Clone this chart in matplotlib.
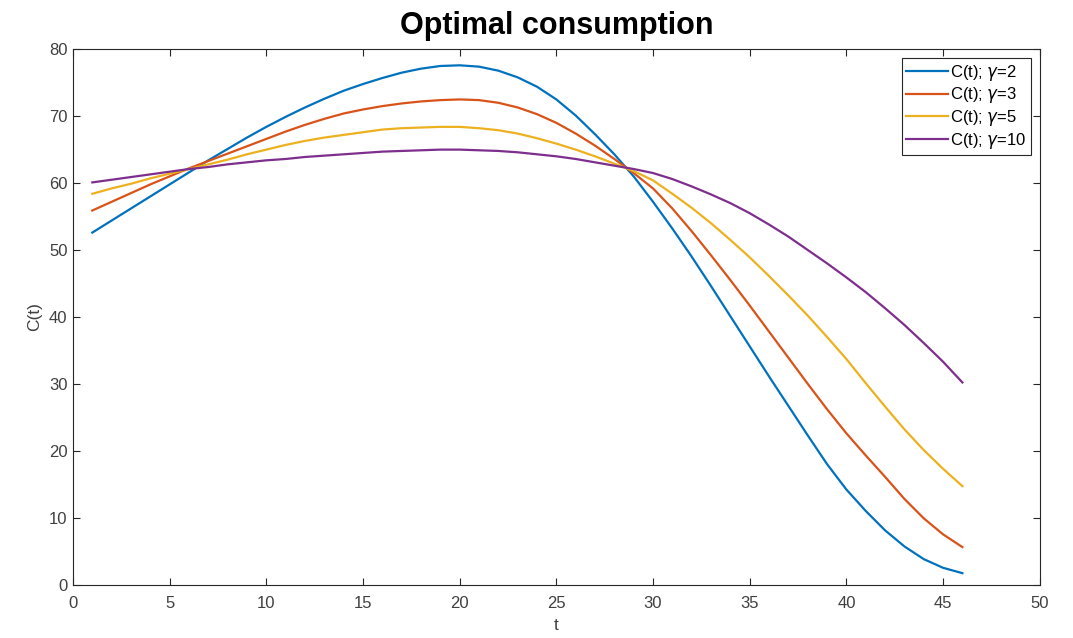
import matplotlib
matplotlib.use("Agg")
import matplotlib.pyplot as plt

# time grid (years)
t = list(range(1, 47))

# optimal consumption, one list per gamma
c_gamma2 = [52.6, 54.4, 56.2, 58.0, 59.8, 61.6, 63.4, 65.1, 66.8, 68.4,
            69.9, 71.3, 72.6, 73.8, 74.8, 75.7, 76.5, 77.1, 77.5, 77.6,
            77.4, 76.8, 75.8, 74.4, 72.5, 70.1, 67.3, 64.3, 61.0, 57.2,
            53.2, 49.0, 44.6, 40.1, 35.6, 31.1, 26.7, 22.3, 18.0, 14.2,
            11.0, 8.1, 5.7, 3.8, 2.5, 1.7]
c_gamma3 = [55.9, 57.2, 58.5, 59.8, 61.0, 62.2, 63.3, 64.4, 65.5, 66.6,
            67.7, 68.7, 69.6, 70.4, 71.0, 71.5, 71.9, 72.2, 72.4, 72.5,
            72.4, 72.0, 71.3, 70.3, 69.0, 67.4, 65.6, 63.6, 61.5, 59.2,
            56.2, 52.8, 49.2, 45.5, 41.7, 37.8, 33.9, 30.0, 26.2, 22.6,
            19.3, 16.1, 12.8, 9.9, 7.5, 5.6]
c_gamma5 = [58.4, 59.2, 59.9, 60.7, 61.4, 62.1, 62.8, 63.5, 64.3, 65.0,
            65.7, 66.3, 66.8, 67.2, 67.6, 68.0, 68.2, 68.3, 68.4, 68.4,
            68.2, 67.9, 67.4, 66.7, 65.9, 65.0, 64.0, 62.9, 61.8, 60.4,
            58.4, 56.3, 54.0, 51.5, 48.9, 46.1, 43.2, 40.2, 37.0, 33.7,
            30.1, 26.6, 23.2, 20.1, 17.3, 14.7]
c_gamma10 = [60.1, 60.5, 60.9, 61.3, 61.7, 62.1, 62.4, 62.8, 63.1, 63.4,
             63.6, 63.9, 64.1, 64.3, 64.5, 64.7, 64.8, 64.9, 65.0, 65.0,
             64.9, 64.8, 64.6, 64.3, 64.0, 63.6, 63.1, 62.6, 62.1, 61.5,
             60.6, 59.5, 58.3, 57.0, 55.5, 53.8, 52.0, 50.0, 48.0, 45.9,
             43.7, 41.3, 38.8, 36.1, 33.3, 30.2]

series = [c_gamma2, c_gamma3, c_gamma5, c_gamma10]
labels = [r"C(t); $\gamma$=2", r"C(t); $\gamma$=3",
          r"C(t); $\gamma$=5", r"C(t); $\gamma$=10"]
colors = ["#0072BD", "#D95319", "#EDB120", "#7E2F8E"]

plt.rcParams["font.family"] = ["Liberation Sans", "DejaVu Sans"]
plt.rcParams["mathtext.fontset"] = "dejavusans"

fig = plt.figure(figsize=(10.73, 6.38), dpi=100)
ax = fig.add_axes([0.068, 0.0838, 0.901, 0.839])

for y, lab, col in zip(series, labels, colors):
    ax.plot(t, y, color=col, linewidth=1.6, label=lab)

ax.set_xlim(0, 50)
ax.set_ylim(0, 80)
ax.set_xticks(range(0, 51, 5))
ax.set_yticks(range(0, 81, 10))

grey = "#262626"
txt = "#404040"
for side in ax.spines.values():
    side.set_color(grey)
    side.set_linewidth(0.8)
ax.tick_params(direction="in", length=5, width=0.8, color=grey,
               labelcolor=txt, labelsize=12, top=True, right=True)
ax.tick_params(axis="x", pad=8)
ax.tick_params(axis="y", pad=4)

ax.set_title("Optimal consumption", fontsize=22, fontweight="bold", pad=11)
ax.set_xlabel("t", fontsize=12.5, color=txt, labelpad=5)
ax.set_ylabel("C(t)", fontsize=12.5, color=txt, labelpad=5)

leg = ax.legend(loc="upper right", fontsize=12, handlelength=2.5,
                handletextpad=0.15, labelspacing=0.17, borderpad=0.25,
                fancybox=False, framealpha=1, borderaxespad=0.55)
leg.get_frame().set_edgecolor(grey)
leg.get_frame().set_linewidth(0.8)

fig.savefig("out.png", dpi=100)
